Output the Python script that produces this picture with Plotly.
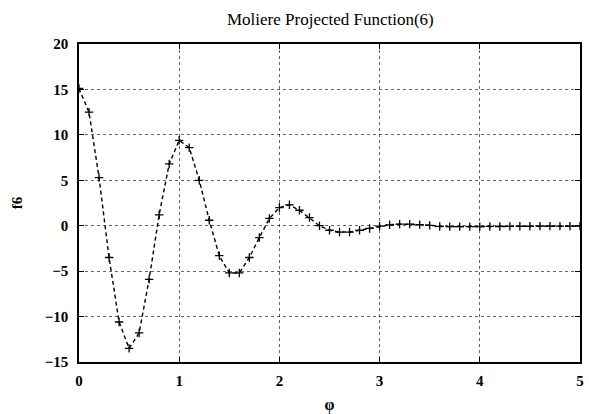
import plotly.graph_objects as go

# Sample points of the projected Moliere function f6 (step 0.1)
phi = [round(0.1 * i, 1) for i in range(51)]
f6 = [15.1, 12.5, 5.3, -3.5, -10.6, -13.5, -11.8, -5.9, 1.2, 6.8,
      9.4, 8.6, 5.0, 0.6, -3.3, -5.2, -5.2, -3.5, -1.3, 0.8,
      2.0, 2.3, 1.7, 0.9, 0.0, -0.5, -0.7, -0.7, -0.5, -0.3,
      -0.05, 0.1, 0.17, 0.17, 0.12, 0.04, -0.08, -0.1, -0.1, -0.1,
      -0.1, -0.08, -0.08, -0.07, -0.06, -0.06, -0.05, -0.05, -0.05, -0.05, -0.05]

x_ticks = [0, 1, 2, 3, 4, 5]
y_ticks = [-15, -10, -5, 0, 5, 10, 15, 20]

serif = "Liberation Serif, Times New Roman, serif"

fig = go.Figure()
fig.add_trace(go.Scatter(
    x=phi, y=f6, mode="lines+markers",
    line=dict(color="black", width=1.4, dash="4px,3px"),
    marker=dict(symbol="cross-thin", size=6, line=dict(color="black", width=1.3)),
    showlegend=False,
))

axis_common = dict(
    showline=True, linecolor="black", linewidth=1.6, mirror="ticks",
    ticks="inside", ticklen=5, tickcolor="black", tickwidth=1,
    showgrid=True, gridcolor="rgba(0,0,0,0.6)", gridwidth=0.8, griddash="dot",
    zeroline=False, automargin=False,
    tickfont=dict(family=serif, size=15, color="black", weight="bold"),
)

fig.update_xaxes(range=[0, 5], tickvals=x_ticks, ticklabelstandoff=4, **axis_common,
                 title=dict(text="φ", font=dict(family=serif, size=16, color="black", weight="bold"),
                            standoff=12))
fig.update_yaxes(range=[-15, 20], tickvals=y_ticks, ticklabelstandoff=6, **axis_common,
                 title=dict(text="f6", font=dict(family=serif, size=15, color="black", weight="bold"),
                            standoff=18))

fig.update_layout(
    width=589, height=414,
    margin=dict(l=79, r=9, t=44, b=52, autoexpand=False),
    paper_bgcolor="white", plot_bgcolor="white",
    font=dict(family=serif, color="black"),
    title=dict(text="Moliere Projected Function(6)",
               font=dict(family=serif, size=17, color="black"),
               x=227 / 589, xanchor="left", xref="container",
               y=1 - 19 / 414, yanchor="middle", yref="container"),
)

fig.write_html("out.html")
